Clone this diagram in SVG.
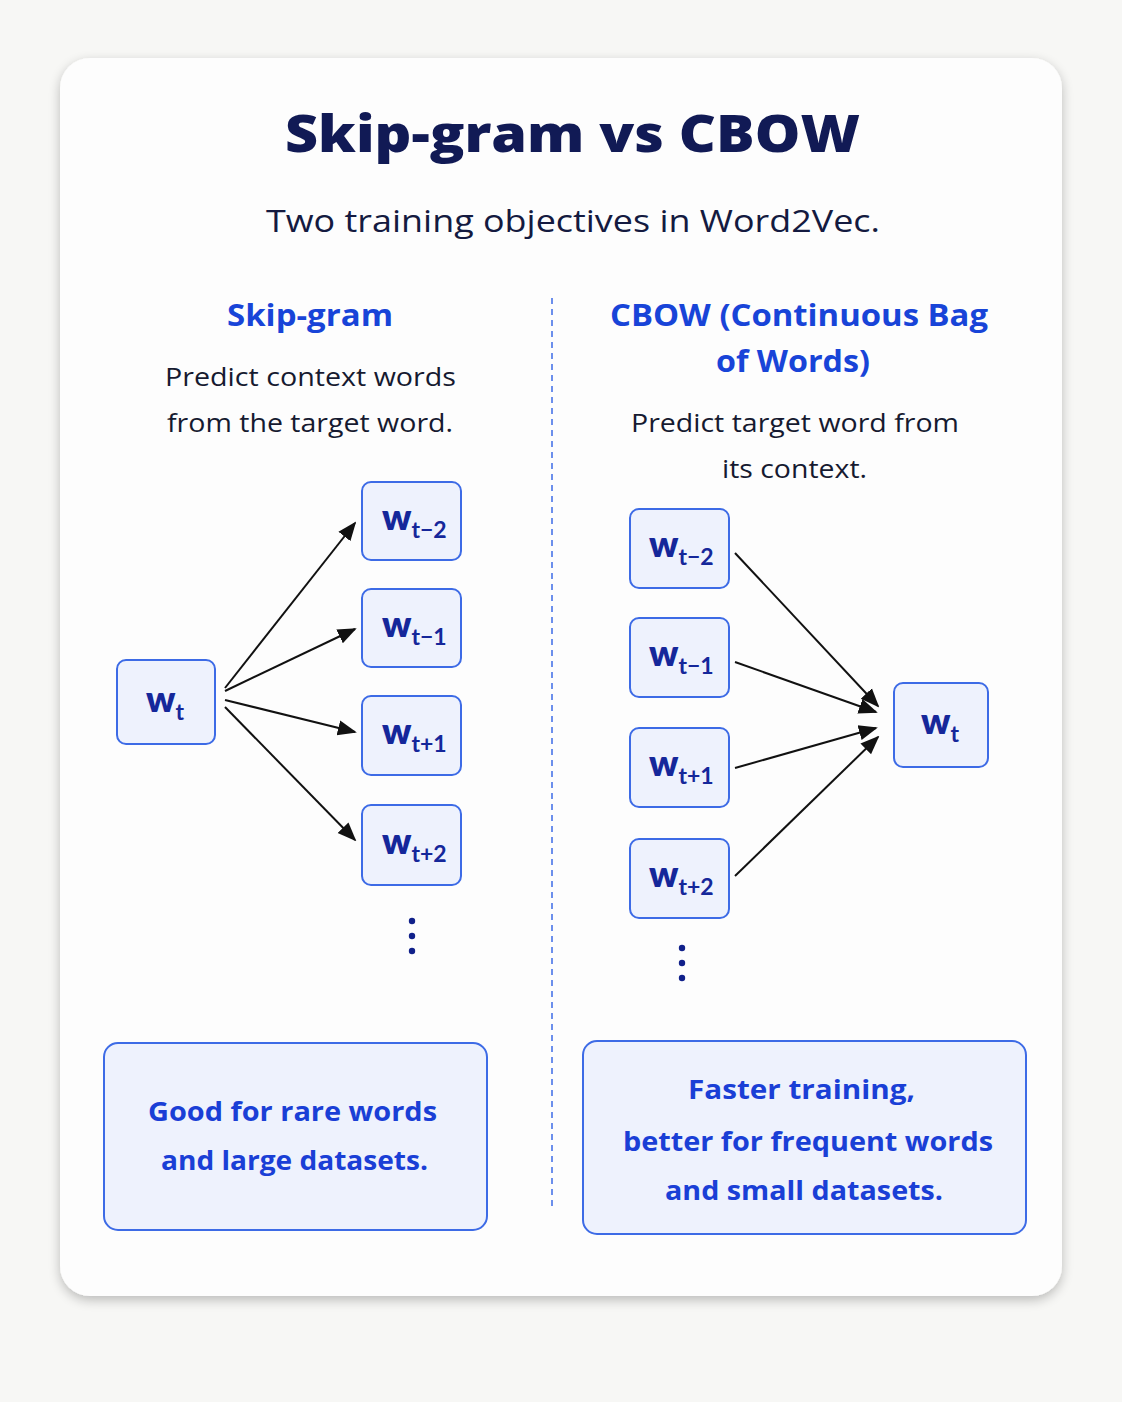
<svg xmlns="http://www.w3.org/2000/svg" width="1122" height="1402" viewBox="0 0 1122 1402">
<defs>
<filter id="sh" x="-10%" y="-10%" width="120%" height="120%"><feGaussianBlur in="SourceAlpha" stdDeviation="6"/><feOffset dy="4"/><feComponentTransfer><feFuncA type="linear" slope="0.25"/></feComponentTransfer><feMerge><feMergeNode/><feMergeNode in="SourceGraphic"/></feMerge></filter>
<marker id="ahb" viewBox="0 0 10 10" refX="9" refY="5" markerWidth="19" markerHeight="19" markerUnits="userSpaceOnUse" orient="auto"><path d="M0,1 L10,5 L0,9 z" fill="#111"/></marker>
</defs>
<style>
.t{font-family:"Open Sans",Lato,"Liberation Sans",sans-serif}
.title{font-size:52px;font-weight:800;fill:#111a55}
.sub{font-size:31px;fill:#141a40}
.h{font-size:31px;font-weight:700;fill:#1844d8}
.d{font-size:26px;fill:#161a30}
.node{fill:#eef2fd;stroke:#3d6be6;stroke-width:2}
.w{font-size:36px;font-weight:800;fill:#15279a;font-family:Lato,"Open Sans",sans-serif}
.s{font-size:23px;font-weight:700}
.note{font-size:27px;font-weight:700;fill:#1a3fd6}
.con{stroke:#111;stroke-width:2;fill:none;marker-end:url(#ahb)}
.dot{fill:#10208a}
</style>
<rect width="1122" height="1402" fill="#f7f7f5"/>
<rect x="60" y="58" width="1002" height="1238" rx="30" fill="#fdfdfd" filter="url(#sh)"/>
<text class="t title" x="285" y="152" textLength="575" lengthAdjust="spacingAndGlyphs">Skip-gram vs CBOW</text>
<text class="t sub" x="266" y="232" textLength="614" lengthAdjust="spacingAndGlyphs">Two training objectives in Word2Vec.</text>
<line x1="552" y1="298" x2="552" y2="1210" stroke="#3d6be6" stroke-width="1.5" stroke-dasharray="6 5"/>
<text class="t h" x="227" y="326" textLength="166" lengthAdjust="spacingAndGlyphs">Skip-gram</text>
<text class="t d" x="165" y="386" textLength="291" lengthAdjust="spacingAndGlyphs">Predict context words</text>
<text class="t d" x="167" y="432" textLength="286" lengthAdjust="spacingAndGlyphs">from the target word.</text>
<text class="t h" x="610" y="326" textLength="378" lengthAdjust="spacingAndGlyphs">CBOW (Continuous Bag</text>
<text class="t h" x="716" y="372" textLength="154" lengthAdjust="spacingAndGlyphs">of Words)</text>
<text class="t d" x="631" y="432" textLength="328" lengthAdjust="spacingAndGlyphs">Predict target word from</text>
<text class="t d" x="722" y="478" textLength="145" lengthAdjust="spacingAndGlyphs">its context.</text>

<g id="connectors">
<line class="con" x1="225" y1="688" x2="355" y2="523"/>
<line class="con" x1="225" y1="691" x2="355" y2="629"/>
<line class="con" x1="225" y1="700" x2="355" y2="732"/>
<line class="con" x1="225" y1="707" x2="355" y2="840"/>
<line class="con" x1="735" y1="553" x2="878" y2="706"/>
<line class="con" x1="735" y1="662" x2="876" y2="712"/>
<line class="con" x1="735" y1="768" x2="876" y2="728"/>
<line class="con" x1="735" y1="876" x2="878" y2="737"/>
</g>

<g id="sg-wt"><rect class="node" x="117" y="660" width="98" height="84" rx="9"/><text class="w" x="146" y="712">w<tspan class="s" dy="8">t</tspan></text></g>
<g id="sg-wt-2"><rect class="node" x="362" y="482" width="99" height="78" rx="9"/><text class="w" x="382" y="530">w<tspan class="s" dy="8">t−2</tspan></text></g>
<g id="sg-wt-1"><rect class="node" x="362" y="589" width="99" height="78" rx="9"/><text class="w" x="382" y="637">w<tspan class="s" dy="8">t−1</tspan></text></g>
<g id="sg-wt+1"><rect class="node" x="362" y="696" width="99" height="79" rx="9"/><text class="w" x="382" y="744">w<tspan class="s" dy="8">t+1</tspan></text></g>
<g id="sg-wt+2"><rect class="node" x="362" y="805" width="99" height="80" rx="9"/><text class="w" x="382" y="854">w<tspan class="s" dy="8">t+2</tspan></text></g>
<g id="sg-dots"><circle class="dot" cx="412" cy="921" r="3.2"/><circle class="dot" cx="412" cy="936" r="3.2"/><circle class="dot" cx="412" cy="951" r="3.2"/></g>

<g id="cb-wt-2"><rect class="node" x="630" y="509" width="99" height="79" rx="9"/><text class="w" x="649" y="557">w<tspan class="s" dy="8">t−2</tspan></text></g>
<g id="cb-wt-1"><rect class="node" x="630" y="618" width="99" height="79" rx="9"/><text class="w" x="649" y="666">w<tspan class="s" dy="8">t−1</tspan></text></g>
<g id="cb-wt+1"><rect class="node" x="630" y="728" width="99" height="79" rx="9"/><text class="w" x="649" y="776">w<tspan class="s" dy="8">t+1</tspan></text></g>
<g id="cb-wt+2"><rect class="node" x="630" y="839" width="99" height="79" rx="9"/><text class="w" x="649" y="887">w<tspan class="s" dy="8">t+2</tspan></text></g>
<g id="cb-wt"><rect class="node" x="894" y="683" width="94" height="84" rx="9"/><text class="w" x="921" y="734">w<tspan class="s" dy="8">t</tspan></text></g>
<g id="cb-dots"><circle class="dot" cx="682" cy="948" r="3.2"/><circle class="dot" cx="682" cy="963" r="3.2"/><circle class="dot" cx="682" cy="978" r="3.2"/></g>

<g id="sg-note"><rect class="node" x="104" y="1043" width="383" height="187" rx="14" fill="#f3f6fe"/><text class="t note" x="148" y="1121" textLength="289" lengthAdjust="spacingAndGlyphs">Good for rare words</text><text class="t note" x="161" y="1170" textLength="267" lengthAdjust="spacingAndGlyphs">and large datasets.</text></g>
<g id="cb-note"><rect class="node" x="583" y="1041" width="443" height="193" rx="14" fill="#f3f6fe"/><text class="t note" x="688" y="1099" textLength="227" lengthAdjust="spacingAndGlyphs">Faster training,</text><text class="t note" x="623" y="1151" textLength="370" lengthAdjust="spacingAndGlyphs">better for frequent words</text><text class="t note" x="665" y="1200" textLength="278" lengthAdjust="spacingAndGlyphs">and small datasets.</text></g>
</svg>
